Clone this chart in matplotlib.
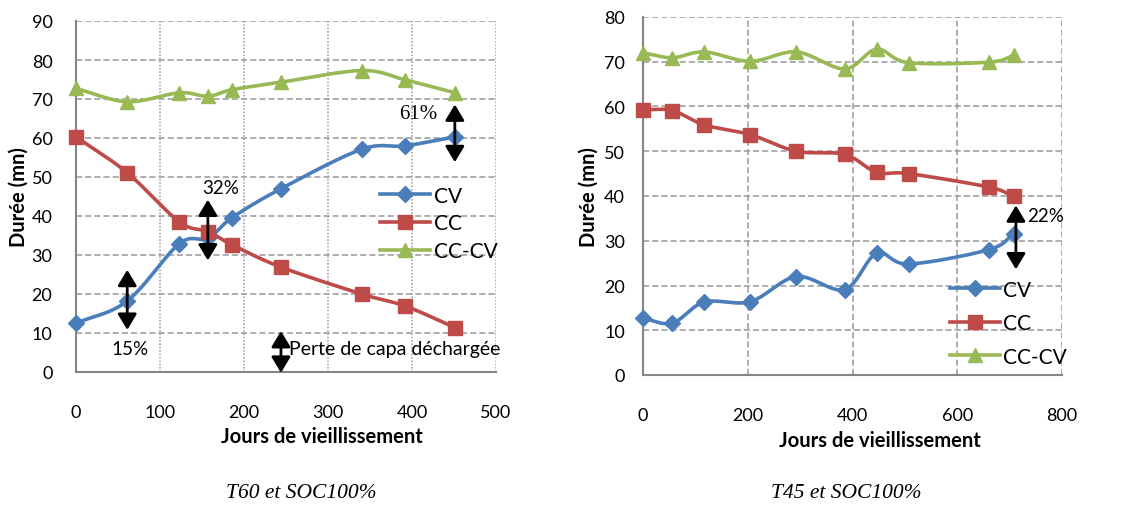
import numpy as np
import matplotlib
matplotlib.use("Agg")
import matplotlib.pyplot as plt

# ---- data: T60 / SOC100% ----
days_t60 = [0, 61, 123, 157, 186, 244, 340, 392, 451]
cv_t60 = [12.5, 18.2, 32.9, 34.3, 39.6, 47.0, 57.1, 58.0, 60.3]
cc_t60 = [60.3, 51.1, 38.5, 36.0, 32.6, 26.9, 20.0, 16.9, 11.4]
cccv_t60 = [72.7, 69.3, 71.6, 70.7, 72.4, 74.3, 77.3, 74.9, 71.6]

# ---- data: T45 / SOC100% ----
days_t45 = [0, 56, 117, 205, 293, 385, 446, 507, 660, 708]
cv_t45 = [12.7, 11.6, 16.3, 16.4, 22.0, 19.1, 27.2, 24.8, 28.0, 31.5]
cc_t45 = [59.3, 59.1, 55.9, 53.7, 50.0, 49.3, 45.3, 45.0, 42.0, 39.9]
cccv_t45 = [72.0, 70.9, 72.2, 70.1, 72.2, 68.4, 72.8, 69.8, 69.9, 71.4]

series_names = ["CV", "CC", "CC-CV"]
colors = ["#4A7EBB", "#BE4B48", "#98B954"]
markers = ["D", "s", "^"]
msizes = [8.5, 10.5, 10]

FONT = ["Lato", "DejaVu Sans"]
plt.rcParams["font.family"] = FONT

W, H = 1121, 506
fig = plt.figure(figsize=(W / 100, H / 100), dpi=100)


def ax_px(l, t, r, b):
    return fig.add_axes([l / W, 1 - b / H, (r - l) / W, (b - t) / H])


def smooth(x, y, xr, yr, n=20):
    """Catmull-Rom curve through the points, computed in normalised coords."""
    x = np.asarray(x, float) / xr
    y = np.asarray(y, float) / yr
    P = np.column_stack([x, y])
    P = np.vstack([P[0] - (P[1] - P[0]), P, P[-1] + (P[-1] - P[-2])])
    out = []
    t = np.linspace(0, 1, n, endpoint=False)
    for i in range(1, len(P) - 2):
        p0, p1, p2, p3 = P[i - 1], P[i], P[i + 1], P[i + 2]
        tt = t[:, None]
        pts = 0.5 * ((2 * p1) + (-p0 + p2) * tt + (2 * p0 - 5 * p1 + 4 * p2 - p3) * tt ** 2
                     + (-p0 + 3 * p1 - 3 * p2 + p3) * tt ** 3)
        out.append(pts)
    out.append(P[-2][None, :])
    S = np.vstack(out)
    return S[:, 0] * xr, S[:, 1] * yr


def setup(ax, xmax, xstep, ymax, vgrid_style, ytick_pad, ylabel_pad, xlabel_x):
    ax.set_xlim(0, xmax)
    ax.set_ylim(0, ymax)
    ax.set_xticks(np.arange(0, xmax + 1, xstep))
    ax.set_yticks(np.arange(0, ymax + 1, 10))
    ax.tick_params(length=0, labelsize=13, pad=ytick_pad, colors="black")
    ax.tick_params(axis="x", pad=23)
    for s in ["top", "right"]:
        ax.spines[s].set_visible(False)
    for s in ["left", "bottom"]:
        ax.spines[s].set_color("#868686")
        ax.spines[s].set_linewidth(1.5)
    ax.yaxis.grid(True, color="#999999", linestyle=(0, (4, 2)), linewidth=1.1)
    ax.xaxis.grid(True, color="#999999", linestyle=vgrid_style, linewidth=1.1)
    ax.set_axisbelow(True)
    ax.set_ylabel("Durée (mn)", fontsize=14.5, fontweight="bold", labelpad=ylabel_pad)
    ax.set_xlabel("Jours de vieillissement", fontsize=14.5, fontweight="bold", labelpad=4)
    ax.xaxis.set_label_coords(xlabel_x, -0.155)


def draw_series(ax, days, ys, xr, yr):
    handles = []
    for y, c, m, ms, name in zip(ys, colors, markers, msizes, series_names):
        sx, sy = smooth(days, y, xr, yr)
        ax.plot(sx, sy, color=c, lw=2.6, solid_capstyle="round", zorder=3, clip_on=False)
        ax.plot(days, y, ls="none", marker=m, ms=ms, color=c, mec=c, zorder=4, clip_on=False)
        h, = ax.plot([], [], color=c, lw=2.6, marker=m, ms=ms, mec=c, label=name)
        handles.append(h)
    return handles


def darrow(ax, x, y0, y1):
    ax.annotate("", xy=(x, y1), xytext=(x, y0),
                arrowprops=dict(arrowstyle="<|-|>,head_length=0.6,head_width=0.36",
                                color="black", lw=2.0,
                                mutation_scale=16, shrinkA=0, shrinkB=0),
                zorder=6, annotation_clip=False)


# ---- left chart ----
ax1 = ax_px(76, 22, 496, 373)
setup(ax1, 500, 100, 90, (0, (1, 1.2)), 17, 2, 0.585)
h1 = draw_series(ax1, days_t60, [cv_t60, cc_t60, cccv_t60], 500, 90)
ax1.legend(handles=h1, loc="upper left", bbox_to_anchor=(0.705, 0.555), frameon=False,
           fontsize=15, handlelength=2.4, handletextpad=0.15, labelspacing=0.38,
           borderaxespad=0)
darrow(ax1, 61, 10.8, 26.2)
ax1.text(64, 6.0, "15%", fontsize=13.5, ha="center", va="center")
darrow(ax1, 157, 28.6, 44.2)
ax1.text(172, 47.4, "32%", fontsize=13.5, ha="center", va="center")
darrow(ax1, 451, 53.8, 68.6)
ax1.text(407, 66.4, "61%", fontsize=15, ha="center", va="center",
         family=["Liberation Serif", "DejaVu Serif"])
darrow(ax1, 244, -0.2, 10.5)
ax1.text(254, 5.9, "Perte de capa déchargée", fontsize=14, ha="left", va="center")

# ---- right chart ----
ax2 = ax_px(643, 18, 1062, 376)
setup(ax2, 800, 200, 80, (0, (4, 2)), 13, 4, 0.565)
h2 = draw_series(ax2, days_t45, [cv_t45, cc_t45, cccv_t45], 800, 80)
ax2.legend(handles=h2, loc="upper left", bbox_to_anchor=(0.714, 0.29), frameon=False,
           fontsize=15, handlelength=2.4, handletextpad=0.12, labelspacing=0.65,
           borderaxespad=0)
darrow(ax2, 712, 23.6, 37.9)
ax2.text(733, 35.6, "22%", fontsize=13.5, ha="left", va="center")

# ---- captions ----
cap_font = ["Liberation Serif", "DejaVu Serif"]
fig.text(301 / W, 1 - 494 / H, "T60 et SOC100%", fontsize=15.5, style="italic",
         ha="center", va="center", family=cap_font)
fig.text(846 / W, 1 - 494 / H, "T45 et SOC100%", fontsize=15.5, style="italic",
         ha="center", va="center", family=cap_font)

fig.savefig("out.png", dpi=100)
